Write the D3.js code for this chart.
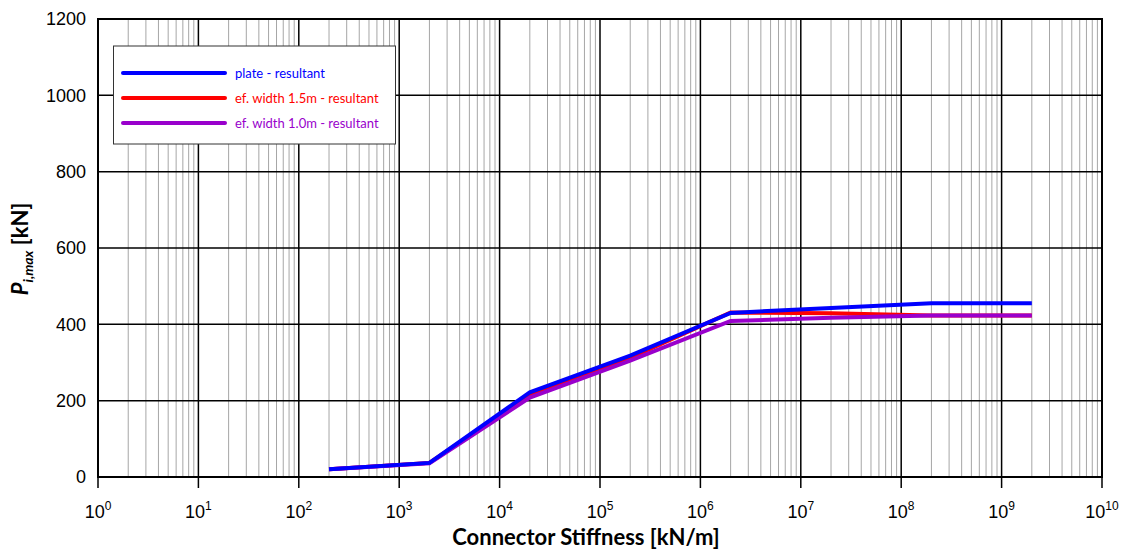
<!DOCTYPE html>
<html>
<head>
<meta charset="utf-8">
<script src="https://cdn.jsdelivr.net/npm/d3@7"></script>
<style>
  body { margin: 0; background: #fff; }
  svg { display: block; }
  .tick-label { font-family: "Liberation Sans", Arial, sans-serif; font-size: 18px; fill: #000; }
  .legend-text { font-family: Lato, "Open Sans", sans-serif; font-size: 13px; }
  .axis-title { font-family: Lato, "Open Sans", sans-serif; font-size: 22px; font-weight: bold; }
</style>
</head>
<body>
<svg id="chart" width="1126" height="556"></svg>
<script>
// stiffness values (kN/m) and max force per series (kN)
const stiffness = [2e2, 2e3, 2e4, 2e5, 2e6, 2e7, 2e8, 2e9];
const plate = [20, 37, 222, 318, 430, 443, 455, 455];
const width15 = [20, 37, 215, 312, 431, 429, 423, 423];
const width10 = [20, 36, 208, 305, 409, 417, 423, 423];

const seriesNames = ["plate - resultant", "ef. width 1.5m - resultant", "ef. width 1.0m - resultant"];
const seriesColors = ["#0000ff", "#ff0000", "#9900cc"];
const seriesValues = [plate, width15, width10];

const xExponents = d3.range(0, 11);
const yTicks = [0, 200, 400, 600, 800, 1000, 1200];

const plot = { left: 98, right: 1102, top: 19, bottom: 477 };

const x = d3.scaleLog().domain([1, 1e10]).range([plot.left, plot.right]);
const y = d3.scaleLinear().domain([0, 1200]).range([plot.bottom, plot.top]);

const svg = d3.select("#chart");

// minor vertical grid
const minors = [];
xExponents.slice(0, -1).forEach(e => {
  for (let k = 2; k <= 9; k++) minors.push(k * Math.pow(10, e));
});
svg.append("g")
  .selectAll("line")
  .data(minors)
  .join("line")
  .attr("x1", d => x(d)).attr("x2", d => x(d))
  .attr("y1", plot.top).attr("y2", plot.bottom)
  .attr("stroke", "#a6a6a6")
  .attr("stroke-width", 1);

// major grid
svg.append("g")
  .selectAll("line")
  .data(xExponents.map(e => Math.pow(10, e)))
  .join("line")
  .attr("x1", d => x(d)).attr("x2", d => x(d))
  .attr("y1", plot.top).attr("y2", plot.bottom + 11)
  .attr("stroke", "#000")
  .attr("stroke-width", 1.5);

svg.append("g")
  .selectAll("line")
  .data(yTicks)
  .join("line")
  .attr("x1", plot.left).attr("x2", plot.right)
  .attr("y1", d => y(d)).attr("y2", d => y(d))
  .attr("stroke", "#000")
  .attr("stroke-width", 1.5);

svg.append("rect")
  .attr("x", plot.left).attr("y", plot.top)
  .attr("width", plot.right - plot.left)
  .attr("height", plot.bottom - plot.top)
  .attr("fill", "none")
  .attr("stroke", "#000")
  .attr("stroke-width", 2);

// y axis labels
const yAxis = d3.axisLeft(y)
  .tickValues(yTicks)
  .tickFormat(d3.format("d"))
  .tickSize(0)
  .tickPadding(12);
const yg = svg.append("g")
  .attr("transform", `translate(${plot.left},0)`)
  .call(yAxis)
  .attr("font-family", null)
  .attr("font-size", null);
yg.select(".domain").remove();
yg.selectAll("text").attr("class", "tick-label");

// x axis labels with superscripts
const xl = svg.append("g")
  .selectAll("text")
  .data(xExponents)
  .join("text")
  .attr("class", "tick-label")
  .attr("x", e => x(Math.pow(10, e)))
  .attr("y", 518)
  .attr("text-anchor", "middle");
xl.append("tspan").text("10");
xl.append("tspan")
  .attr("dy", -8)
  .attr("font-size", 12)
  .text(e => e);

// lines
const line = d3.line()
  .x((d, i) => x(stiffness[i]))
  .y(d => y(d));

[1, 2, 0].forEach(i => {
  svg.append("path")
    .datum(seriesValues[i])
    .attr("d", line)
    .attr("fill", "none")
    .attr("stroke", seriesColors[i])
    .attr("stroke-width", 4)
    .attr("stroke-linejoin", "miter");
});

// legend
const legend = svg.append("g");
legend.append("rect")
  .attr("x", 113.5).attr("y", 46)
  .attr("width", 282).attr("height", 98)
  .attr("fill", "#fff")
  .attr("stroke", "#333")
  .attr("stroke-width", 1);

const items = legend.selectAll("g")
  .data(seriesNames)
  .join("g")
  .attr("transform", (d, i) => `translate(0,${73 + i * 25})`);
items.append("line")
  .attr("x1", 123).attr("x2", 225)
  .attr("stroke", (d, i) => seriesColors[i])
  .attr("stroke-width", 4)
  .attr("stroke-linecap", "round");
items.append("text")
  .attr("class", "legend-text")
  .attr("x", 235).attr("y", 4.5)
  .attr("fill", (d, i) => seriesColors[i])
  .text(d => d);

// axis titles
svg.append("text")
  .attr("class", "axis-title")
  .attr("x", 586).attr("y", 545)
  .attr("text-anchor", "middle")
  .text("Connector Stiffness [kN/m]");

const yt = svg.append("text")
  .attr("class", "axis-title")
  .attr("transform", "translate(28,249) rotate(-90)")
  .attr("text-anchor", "middle");
yt.append("tspan").attr("font-style", "italic").text("P");
yt.append("tspan").attr("font-style", "italic").attr("font-size", 14).attr("dy", 5).text("i,max");
yt.append("tspan").attr("dy", -5).text(" [kN]");
</script>
</body>
</html>
